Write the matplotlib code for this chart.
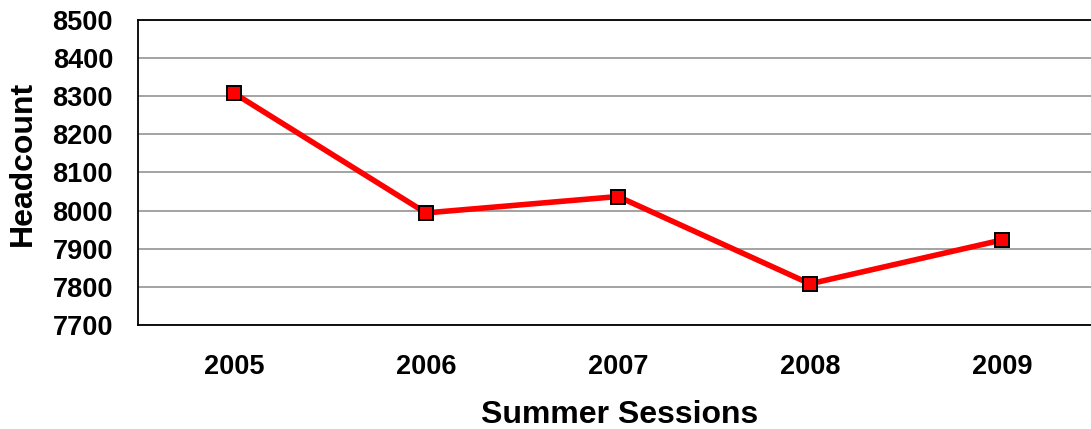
import matplotlib
matplotlib.use("Agg")
from matplotlib import pyplot as plt

years = ["2005", "2006", "2007", "2008", "2009"]
headcount = [8308, 7994, 8037, 7808, 7923]
y_ticks = [7700, 7800, 7900, 8000, 8100, 8200, 8300, 8400, 8500]

plt.rcParams["font.family"] = ["Liberation Sans", "DejaVu Sans"]
plt.rcParams["font.weight"] = "bold"

fig = plt.figure(figsize=(10.91, 4.29), dpi=100)
# right edge of the plot area runs past the image edge, as in the original
ax = fig.add_axes([138 / 1091, 104 / 429, 960 / 1091, 305 / 429])

x = list(range(len(years)))
ax.plot(x, headcount, color="#ff0000", linewidth=4, marker="s",
        markersize=10.5, markerfacecolor="#ff0000", markeredgecolor="black",
        markeredgewidth=1.4, zorder=3)

ax.set_xlim(-0.5, len(years) - 0.5)
ax.set_ylim(7700, 8500)
ax.set_yticks(y_ticks)
ax.set_xticks(x)
ax.set_xticklabels(years)

ax.yaxis.grid(True, color="#8a8a8a", linewidth=1.1)
ax.set_axisbelow(True)
for side in ["left", "bottom", "top", "right"]:
    ax.spines[side].set_color("black")
    ax.spines[side].set_linewidth(1.3)

ax.tick_params(axis="both", length=0, labelsize=19.5)
ax.tick_params(axis="y", pad=18)
ax.tick_params(axis="x", pad=21)
for lbl in ax.get_xticklabels() + ax.get_yticklabels():
    lbl.set_fontweight("bold")

ax.set_xlabel("Summer Sessions", fontsize=23, fontweight="bold")
ax.set_ylabel("Headcount", fontsize=23, fontweight="bold")
ax.xaxis.label.set_verticalalignment("center")
ax.yaxis.label.set_verticalalignment("center")
ax.xaxis.set_label_coords(0.502, -0.295)
ax.yaxis.set_label_coords(-0.12, 0.53)

fig.savefig("out.png", dpi=100)
